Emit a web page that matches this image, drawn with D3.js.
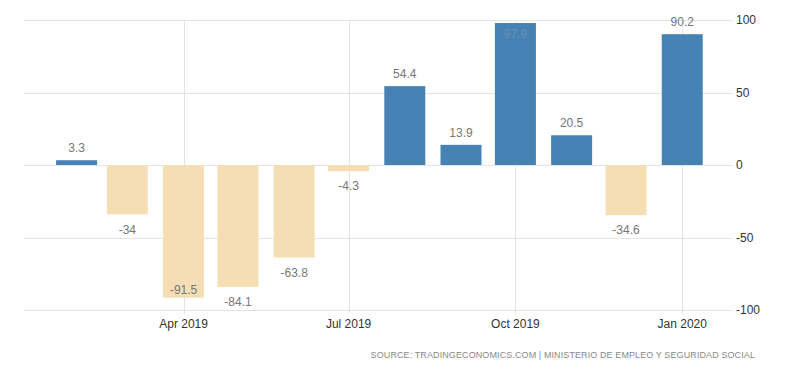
<!DOCTYPE html>
<html>
<head>
<meta charset="utf-8">
<script src="https://cdn.jsdelivr.net/npm/d3@7/dist/d3.min.js"></script>
<style>
  body { margin: 0; background: #fff; }
  svg { display: block; font-family: "Liberation Sans", Arial, sans-serif; }
  .grid line { stroke: #e4e4e4; stroke-width: 1; shape-rendering: crispEdges; }
  .ytick text { fill: #333; font-size: 12px; }
  .xtick text { fill: #333; font-size: 12px; }
  .bar-label { fill: #777; font-size: 12px; }
  .source { fill: #888; font-size: 9px; letter-spacing: 0.1px; }
</style>
</head>
<body>
<svg id="chart" width="800" height="373"></svg>
<script>
// months (first of month) and change in unemployed (thousands)
var months = ["2019-02", "2019-03", "2019-04", "2019-05", "2019-06", "2019-07",
              "2019-08", "2019-09", "2019-10", "2019-11", "2019-12", "2020-01"];
var values = [3.3, -34, -91.5, -84.1, -63.8, -4.3, 54.4, 13.9, 97.9, 20.5, -34.6, 90.2];
var labels = ["3.3", "-34", "-91.5", "-84.1", "-63.8", "-4.3", "54.4", "13.9", "97.9", "20.5", "-34.6", "90.2"];
var yTicks = [-100, -50, 0, 50, 100];
var xTicks = ["2019-04", "2019-07", "2019-10", "2020-01"];
var sourceText = "SOURCE: TRADINGECONOMICS.COM | MINISTERIO DE EMPLEO Y SEGURIDAD SOCIAL";

var parse = d3.timeParse("%Y-%m");
var fmt = d3.timeFormat("%b %Y");

var colors = { up: "#4682b4", down: "#f5deb3" };
var barWidth = 41;
var plotLeft = 24, plotRight = 733, plotTop = 20, plotBottom = 310;

var svg = d3.select("#chart");

var xScale = d3.scaleTime()
  .domain([new Date(2019, 0, 3), new Date(2020, 0, 29)])
  .range([plotLeft, plotRight]);

var yScale = d3.scaleLinear()
  .domain([-100, 100])
  .range([plotBottom, plotTop]);

// horizontal grid + y labels
var grid = svg.append("g").attr("class", "grid");
grid.selectAll("line.h")
  .data(yTicks)
  .enter()
  .append("line")
  .attr("class", "h")
  .attr("x1", plotLeft)
  .attr("x2", plotRight)
  .attr("y1", function (d) { return Math.round(yScale(d)) + 0.5; })
  .attr("y2", function (d) { return Math.round(yScale(d)) + 0.5; });

// vertical grid at x ticks
grid.selectAll("line.v")
  .data(xTicks)
  .enter()
  .append("line")
  .attr("class", "v")
  .attr("x1", function (d) { return Math.round(xScale(parse(d))) + 0.5; })
  .attr("x2", function (d) { return Math.round(xScale(parse(d))) + 0.5; })
  .attr("y1", plotTop)
  .attr("y2", plotBottom + 4);

svg.append("g")
  .attr("class", "ytick")
  .selectAll("text")
  .data(yTicks)
  .enter()
  .append("text")
  .attr("x", plotRight + 3)
  .attr("y", function (d) { return yScale(d); })
  .attr("dy", "0.35em")
  .text(function (d) { return d; });

svg.append("g")
  .attr("class", "xtick")
  .selectAll("text")
  .data(xTicks)
  .enter()
  .append("text")
  .attr("x", function (d) { return xScale(parse(d)); })
  .attr("y", plotBottom + 14)
  .attr("dy", "0.35em")
  .attr("text-anchor", "middle")
  .text(function (d) { return fmt(parse(d)); });

// bars
var data = months.map(function (m, i) {
  return { date: parse(m), value: values[i], label: labels[i] };
});

svg.append("g")
  .attr("class", "bars")
  .selectAll("rect")
  .data(data)
  .enter()
  .append("rect")
  .attr("x", function (d) { return xScale(d.date) - barWidth / 2; })
  .attr("width", barWidth)
  .attr("y", function (d) { return yScale(Math.max(0, d.value)); })
  .attr("height", function (d) { return Math.abs(yScale(d.value) - yScale(0)); })
  .style("fill", function (d) { return d.value >= 0 ? colors.up : colors.down; });

// labels: outside the bar end, pushed inside when they would leave the plot
function labelInside(d) {
  var end = yScale(d.value);
  return d.value >= 0 ? end - 12 < plotTop + 2 : end + 15 > plotBottom - 6;
}

svg.append("g")
  .selectAll("text")
  .data(data)
  .enter()
  .append("text")
  .attr("class", "bar-label")
  .attr("x", function (d) { return xScale(d.date); })
  .attr("y", function (d) {
    var end = yScale(d.value);
    if (d.value >= 0) return labelInside(d) ? end + 11 : end - 12;
    return labelInside(d) ? end - 8 : end + 15;
  })
  .attr("dy", "0.35em")
  .style("fill", function (d) {
    // gray text on the blue bar stays barely visible, as in the original
    return (d.value >= 0 && labelInside(d)) ? "#6a8db5" : null;
  })
  .attr("text-anchor", "middle")
  .text(function (d) { return d.label; });

svg.append("text")
  .attr("class", "source")
  .attr("x", 755)
  .attr("y", 358)
  .attr("text-anchor", "end")
  .text(sourceText);
</script>
</body>
</html>
